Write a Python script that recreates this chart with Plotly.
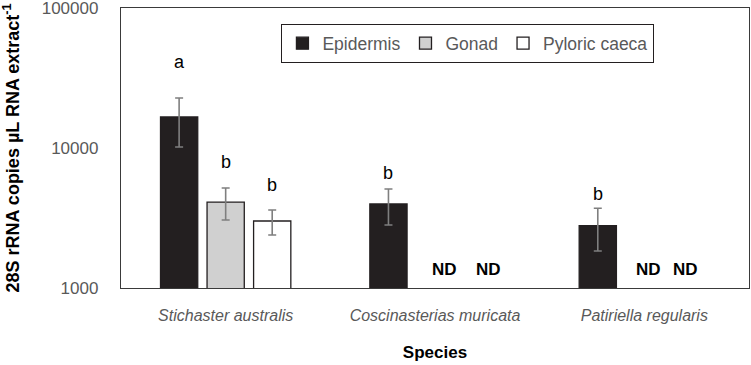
import math
import plotly.graph_objects as go

species = ["Stichaster australis", "Coscinasterias muricata", "Patiriella regularis"]
tissues = ["Epidermis", "Gonad", "Pyloric caeca"]
epidermis = [16650, 3980, 2790]
gonad = [4110, None, None]
pyloric = [3010, None, None]
epidermis_hi = [22750, 5100, 3710]
epidermis_lo = [10170, 2820, 1840]
gonad_hi = [5180, None, None]
gonad_lo = [3060, None, None]
pyloric_hi = [3610, None, None]
pyloric_lo = [2390, None, None]
y_ticks = [1000, 10000, 100000]

# significance letters: (species index, tissue index, letter, label height)
letters = [(0, 0, "a", 41100), (0, 1, "b", 7940), (0, 2, "b", 5440),
           (1, 0, "b", 6630), (2, 0, "b", 4690)]
# not detected: (species index, tissue index)
nd = [(1, 1), (1, 2), (2, 1), (2, 2)]
nd_level = 1345

values = [epidermis, gonad, pyloric]
his = [epidermis_hi, gonad_hi, pyloric_hi]
los = [epidermis_lo, gonad_lo, pyloric_lo]
fills = ["#231f20", "#d0d0d0", "#ffffff"]

FONT = "Liberation Sans, Arial"

fig = go.Figure()
for t, name in enumerate(tissues):
    v = values[t]
    plus = [(h - y) if (h is not None and y is not None) else None for h, y in zip(his[t], v)]
    minus = [(y - l) if (l is not None and y is not None) else None for l, y in zip(los[t], v)]
    fig.add_trace(go.Bar(
        x=species, y=v, name=name,
        marker=dict(color=fills[t], line=dict(color="#231f20", width=1.3)),
        error_y=dict(type="data", symmetric=False, array=plus, arrayminus=minus,
                     color="#7f7f7f", thickness=1.6, width=4),
    ))

W, H = 751, 365
L, R, T, B = 121, 2, 8, 77
plot_w = W - L - R
cat_w = plot_w / len(species)
bargap = 0.333
slot = cat_w * (1 - bargap) / 3

annotations = []
for si, ti, txt, yv in letters:
    annotations.append(dict(x=species[si], y=math.log10(yv), xref="x", yref="y",
                            text=txt, showarrow=False, xshift=(ti - 1) * slot,
                            font=dict(size=18, color="#000000", family=FONT)))
nd_shift = {(1, 1): 9, (1, 2): 7, (2, 1): 4, (2, 2): -5}
for si, ti in nd:
    annotations.append(dict(x=species[si], y=math.log10(nd_level), xref="x", yref="y",
                            text="<b>ND</b>", showarrow=False,
                            xshift=(ti - 1) * slot + nd_shift[(si, ti)],
                            font=dict(size=17, color="#000000", family=FONT)))

fig.update_layout(
    width=W, height=H, margin=dict(l=L, r=R, t=T, b=B, autoexpand=False),
    paper_bgcolor="white", plot_bgcolor="white",
    barmode="group", bargap=bargap, bargroupgap=0.2,
    font=dict(family=FONT, color="#595959"),
    showlegend=True,
    legend=dict(orientation="h", x=0.255, y=0.943, xanchor="left", yanchor="top",
                bordercolor="#231f20", borderwidth=1.3, bgcolor="white",
                font=dict(size=17.5, color="#595959", family=FONT), traceorder="normal",
                itemwidth=30, tracegroupgap=0),
    annotations=annotations,
)
fig.update_xaxes(
    showline=True, mirror=True, linecolor="#3a3a3a", linewidth=1.3,
    tickfont=dict(size=16, color="#595959", family=FONT),
    ticks="", showgrid=False, automargin=False, ticklabelstandoff=13,
    title=dict(text="<b>Species</b>", font=dict(size=17, color="#000000", family=FONT), standoff=22),
    tickvals=species, ticktext=["<i>%s</i>" % s for s in species],
)
fig.update_yaxes(
    type="log", range=[3, 5], tickvals=y_ticks, ticktext=[str(v) for v in y_ticks],
    showline=True, mirror=True, linecolor="#3a3a3a", linewidth=1.3,
    tickfont=dict(size=17, color="#595959", family=FONT),
    ticks="", showgrid=False, automargin=False, ticklabeloverflow="allow",
    ticklabelstandoff=18,
    title=dict(text="<b>28S rRNA copies µL RNA extract<sup>-1</sup></b>",
               font=dict(size=18, color="#000000", family=FONT), standoff=20),
)

fig.write_html("out.html", post_script="document.body.style.margin='0';",
               config={"displayModeBar": False})
